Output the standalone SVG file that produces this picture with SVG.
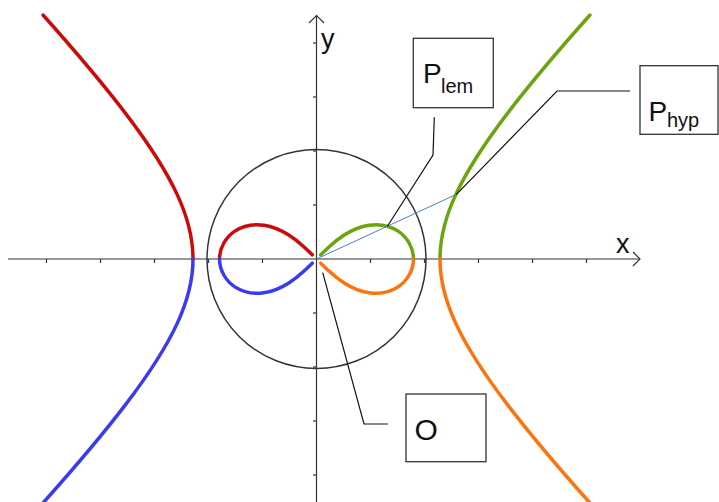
<svg xmlns="http://www.w3.org/2000/svg" width="719" height="502" viewBox="0 0 719 502">
  <style>
    .axis{stroke:#333;stroke-width:1.2;fill:none}
    .tick{stroke:#333;stroke-width:1.2}
    .circ{stroke:#333;stroke-width:1.5;fill:none}
    .curve{fill:none;stroke-width:3.5;stroke-linecap:round;stroke-linejoin:round}
    .red{stroke:#cc0a0a}
    .blue{stroke:#3a3af0}
    .green{stroke:#6aa40e}
    .orange{stroke:#ff720c}
    .box{fill:#fff;stroke:#333;stroke-width:1.3}
    .lead{fill:none;stroke:#111;stroke-width:1.2}
    .ray{fill:none;stroke:#4a80c8;stroke-width:1}
    text{font-family:"Liberation Sans",Arial,sans-serif;fill:#111}
  </style>
  <rect width="719" height="502" fill="#fff"/>
  <g id="axes">
    <line class="axis" x1="8" y1="259" x2="640" y2="259"/>
    <polyline class="axis" points="633,252 640,259 633,266"/>
    <line class="axis" x1="316.5" y1="502" x2="316.5" y2="15.5"/>
    <polyline class="axis" points="309,23 316.5,15.5 324,23"/>
    <g class="tick">
      <line x1="46.5" y1="259" x2="46.5" y2="263"/>
      <line x1="100.5" y1="259" x2="100.5" y2="263"/>
      <line x1="154.5" y1="259" x2="154.5" y2="263"/>
      <line x1="208.5" y1="259" x2="208.5" y2="263"/>
      <line x1="262.5" y1="259" x2="262.5" y2="263"/>
      <line x1="370.5" y1="259" x2="370.5" y2="263"/>
      <line x1="424.5" y1="259" x2="424.5" y2="263"/>
      <line x1="478.5" y1="259" x2="478.5" y2="263"/>
      <line x1="532.5" y1="259" x2="532.5" y2="263"/>
      <line x1="586.5" y1="259" x2="586.5" y2="263"/>
      <line x1="313" y1="43" x2="316.5" y2="43"/>
      <line x1="313" y1="97" x2="316.5" y2="97"/>
      <line x1="313" y1="151" x2="316.5" y2="151"/>
      <line x1="313" y1="205" x2="316.5" y2="205"/>
      <line x1="313" y1="313" x2="316.5" y2="313"/>
      <line x1="313" y1="367" x2="316.5" y2="367"/>
      <line x1="313" y1="421" x2="316.5" y2="421"/>
      <line x1="313" y1="475" x2="316.5" y2="475"/>
    </g>
    <text x="616" y="253" font-size="27">x</text>
    <text x="321" y="48" font-size="27">y</text>
  </g>
  <g id="circle">
    <circle class="circ" cx="316.5" cy="259" r="109.5"/>
  </g>
  <g id="hyperbola">
    <path class="curve green" d="M 440 259 C 440 238.42, 445.03 217.85, 455.76 194.64 C 466.49 171.43, 482.89 145.62, 507.08 113.86 C 528.01 86.37, 554.78 54.44, 589.97 15"/>
    <path class="curve orange" d="M 440 259 C 440 279.58, 445.03 300.15, 455.76 323.36 C 466.49 346.57, 482.89 372.38, 507.08 404.14 C 528.01 431.63, 554.78 463.56, 589.97 503"/>
    <path class="curve red" d="M 193 259 C 193 238.42, 187.97 217.85, 177.24 194.64 C 166.51 171.43, 150.11 145.62, 125.92 113.86 C 104.99 86.37, 78.22 54.44, 43.03 15"/>
    <path class="curve blue" d="M 193 259 C 193 279.58, 187.97 300.15, 177.24 323.36 C 166.51 346.57, 150.11 372.38, 125.92 404.14 C 104.99 431.63, 78.22 463.56, 43.03 503"/>
  </g>
  <g id="lemniscate">
    <path class="curve green" d="M 413.5 259 C 413.5 247.71, 407.03 236.96, 398.11 231.09 C 389.19 225.22, 378.48 223.85, 369.08 225.2 C 359.68 226.56, 351.4 230.39, 344.21 235 C 338.83 238.45, 334.01 242.38, 329.49 246.46 C 326.47 249.17, 323.59 251.96, 320.74 254.77"/>
    <path class="curve orange" d="M 413.5 259 C 413.5 270.29, 407.03 281.04, 398.11 286.91 C 389.19 292.78, 378.48 294.15, 369.08 292.8 C 359.68 291.44, 351.4 287.61, 344.21 283 C 338.83 279.55, 334.01 275.62, 329.49 271.54 C 326.47 268.83, 323.59 266.04, 320.74 263.23"/>
    <path class="curve red" d="M 219.5 259 C 219.5 247.71, 225.97 236.96, 234.89 231.09 C 243.81 225.22, 254.52 223.85, 263.92 225.2 C 273.32 226.56, 281.6 230.39, 288.79 235 C 294.17 238.45, 298.99 242.38, 303.51 246.46 C 306.53 249.17, 309.41 251.96, 312.26 254.77"/>
    <path class="curve blue" d="M 219.5 259 C 219.5 270.29, 225.97 281.04, 234.89 286.91 C 243.81 292.78, 254.52 294.15, 263.92 292.8 C 273.32 291.44, 281.6 287.61, 288.79 283 C 294.17 279.55, 298.99 275.62, 303.51 271.54 C 306.53 268.83, 309.41 266.04, 312.26 263.23"/>
  </g>
  <g id="connectors">
    <line class="ray" x1="316.5" y1="259" x2="455.76" y2="194.64"/>
    <polyline class="lead" points="434.3,117.3 433,155 387.4,226.2"/>
    <polyline class="lead" points="630,91 557,91 456.2,194.6"/>
    <polyline class="lead" points="388,424 364,424 322.7,272.7"/>
  </g>
  <g id="P_lem">
    <rect class="box" x="413.3" y="38.3" width="80" height="69.4"/>
    <text x="423" y="83.3" font-size="28">P</text>
    <text x="441" y="92.7" font-size="20">lem</text>
  </g>
  <g id="P_hyp">
    <rect class="box" x="640" y="65.7" width="78" height="68.6"/>
    <text x="648.5" y="120.7" font-size="28">P</text>
    <text x="667" y="127" font-size="20">hyp</text>
  </g>
  <g id="O">
    <rect class="box" x="406" y="394" width="80" height="67.7"/>
    <text x="414.5" y="440" font-size="30">O</text>
  </g>
</svg>
